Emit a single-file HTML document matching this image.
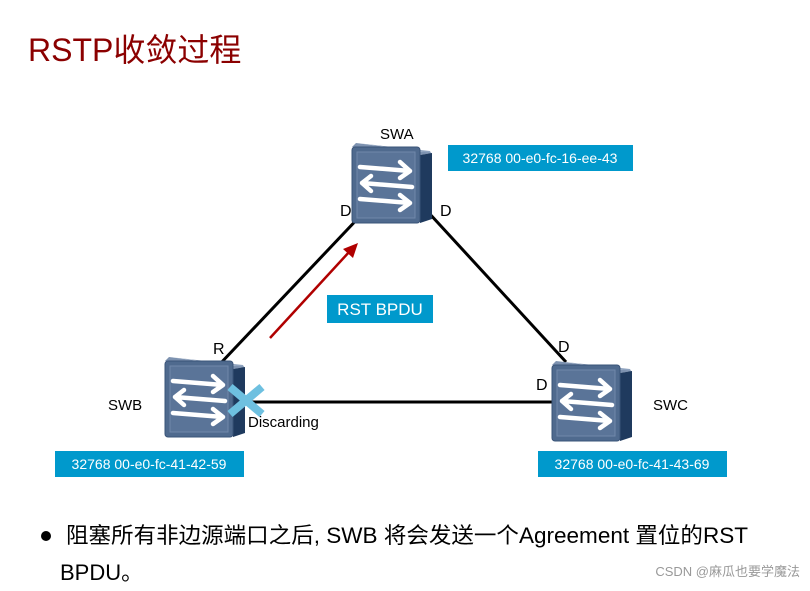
<!DOCTYPE html>
<html><head><meta charset="utf-8"><style>
body{margin:0;background:#fff;width:810px;height:586px;overflow:hidden;font-family:"Liberation Sans","Noto Sans CJK SC",sans-serif}
</style></head><body>
<svg width="810" height="586" xmlns="http://www.w3.org/2000/svg" font-family="Liberation Sans, Noto Sans CJK SC, sans-serif">
<defs>
<g id="sw">
<polygon points="4,0 78,8 80,12 68,8" fill="#8fa3bf"/>
<polygon points="0,4 4,0 80,10 68,12" fill="#7d92b0"/>
<polygon points="68,12 80,10 80,76 68,80" fill="#1f3a5e"/>
<rect x="0" y="4" width="68" height="76" rx="3" fill="#4f6a8e" stroke="#3a5478"/>
<rect x="5" y="9" width="58" height="66" fill="#5a7498" stroke="#7088aa"/>
<g stroke="#fff" stroke-width="4.5" fill="none" stroke-linecap="round" stroke-linejoin="round">
<path d="M8,24 L58,28 M48,19 L58,28 L48,35"/>
<path d="M60,44 L10,40 M19,33 L10,40 L19,48"/>
<path d="M8,56 L58,60 M48,52 L58,60 L48,67"/>
</g>
</g>
</defs>
<text x="28" y="61" font-size="32" fill="#8b0000">RSTP收敛过程</text>
<g stroke="#000" stroke-width="3">
<line x1="364" y1="212" x2="218" y2="366"/>
<line x1="428" y1="212" x2="566" y2="362"/>
<line x1="244" y1="402" x2="554" y2="402"/>
</g>
<line x1="270" y1="338" x2="350" y2="251" stroke="#b00000" stroke-width="2.5"/>
<polygon points="358,243 343,249 353,258" fill="#b00000"/>
<use href="#sw" x="352" y="143"/>
<use href="#sw" x="165" y="357"/>
<use href="#sw" x="552" y="361"/>
<g stroke="#6ec0e0" stroke-width="8"><line x1="230" y1="387" x2="262" y2="414"/><line x1="262" y1="387" x2="230" y2="414"/></g>
<g font-size="15" fill="#000">
<text x="380" y="139">SWA</text>
<text x="108" y="410">SWB</text>
<text x="653" y="410">SWC</text>
<text x="248" y="427">Discarding</text>
<text x="340" y="216" font-size="16">D</text>
<text x="440" y="216" font-size="16">D</text>
<text x="213" y="354" font-size="16">R</text>
<text x="558" y="352" font-size="16">D</text>
<text x="536" y="390" font-size="16">D</text>
</g>
<g fill="#0099cc"><rect x="448" y="145" width="185" height="26"/><rect x="327" y="295" width="106" height="28"/><rect x="55" y="451" width="189" height="26"/><rect x="538" y="451" width="189" height="26"/></g>
<g fill="#fff" font-size="14">
<text x="540" y="163" text-anchor="middle">32768 00-e0-fc-16-ee-43</text>
<text x="380" y="315" text-anchor="middle" font-size="17">RST BPDU</text>
<text x="149" y="469" text-anchor="middle">32768 00-e0-fc-41-42-59</text>
<text x="632" y="469" text-anchor="middle">32768 00-e0-fc-41-43-69</text>
</g>
<circle cx="46" cy="536" r="5" fill="#000"/>
<text x="66" y="543" font-size="22" fill="#000" textLength="682" lengthAdjust="spacingAndGlyphs">阻塞所有非边源端口之后, SWB 将会发送一个Agreement 置位的RST</text>
<text x="60" y="580" font-size="22" fill="#000">BPDU。</text>
<text x="800" y="576" text-anchor="end" font-size="13" fill="#999">CSDN @麻瓜也要学魔法</text>
</svg>
</body></html>
